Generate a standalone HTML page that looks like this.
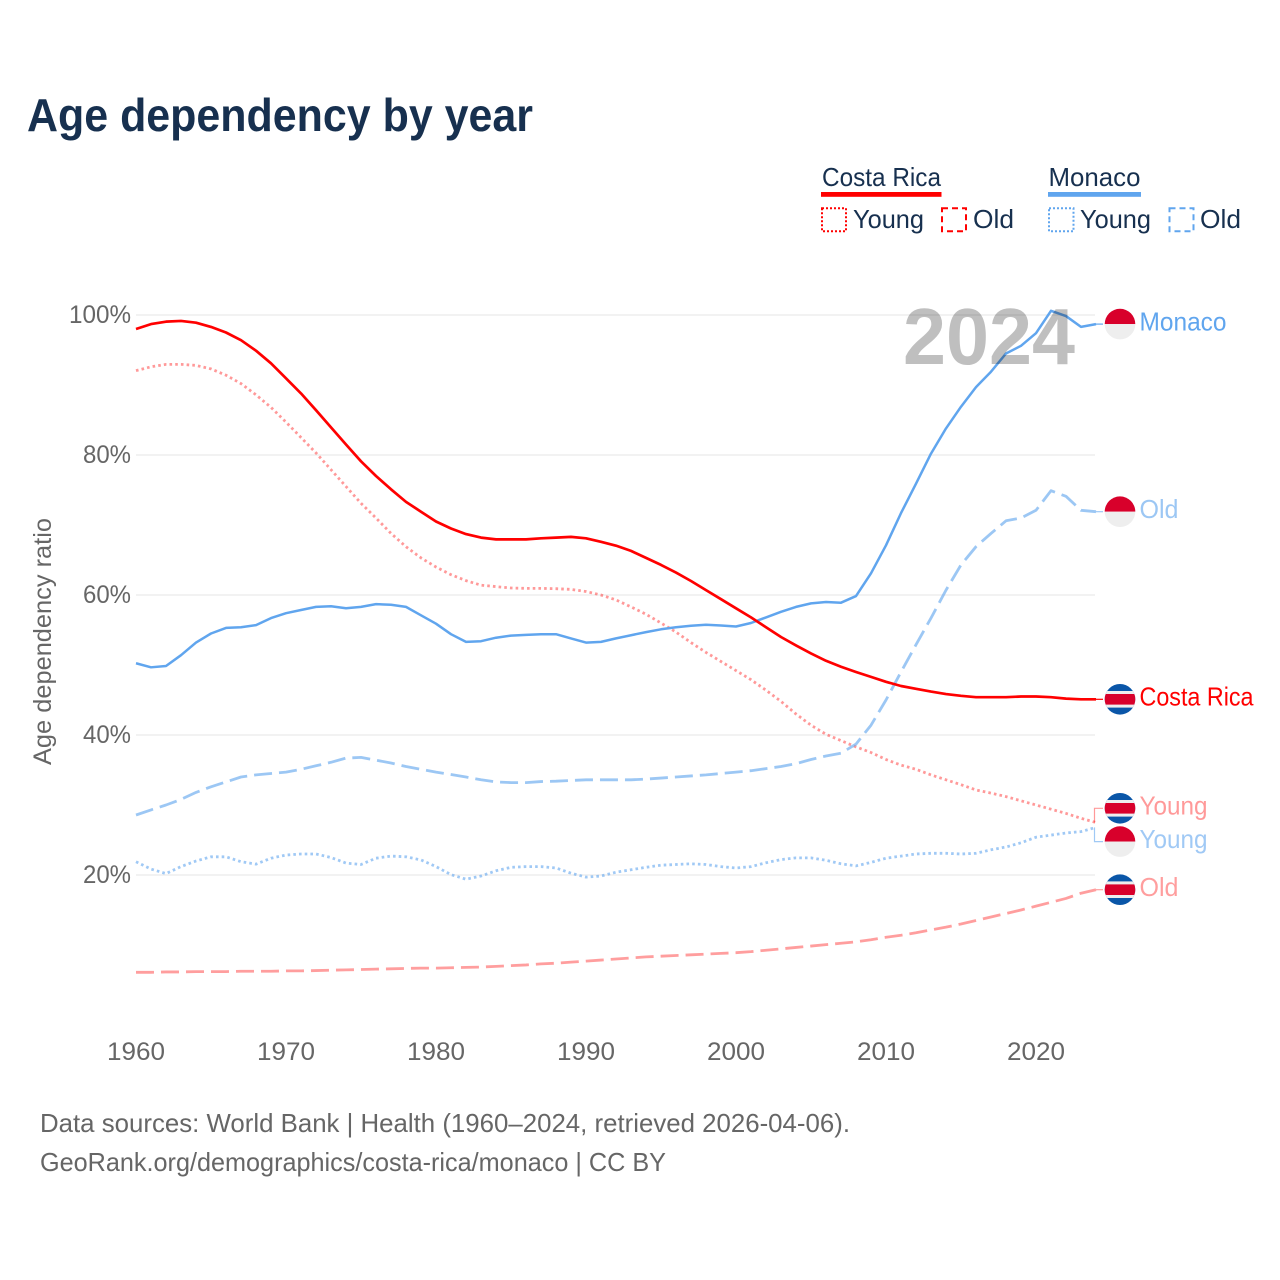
<!DOCTYPE html>
<html lang="en">
<head>
<meta charset="utf-8">
<title>Age dependency by year</title>
<style>
html,body{margin:0;padding:0;background:#fff;width:1280px;height:1280px;overflow:hidden}
svg{display:block}
text{font-family:"Liberation Sans",sans-serif}
</style>
</head>
<body>
<svg id="chart" xmlns="http://www.w3.org/2000/svg" width="1280" height="1280" viewBox="0 0 1280 1280">
  <defs><clipPath id="flag-clip"><circle cx="0" cy="0" r="15.3"></circle></clipPath></defs>
  <rect x="0" y="0" width="1280" height="1280" fill="#ffffff"></rect>

  <text x="27" y="131" font-size="46" font-weight="700" fill="#17304f" textLength="506" lengthAdjust="spacingAndGlyphs">Age dependency by year</text>

  <g>
    <g>
      <text x="822" y="186" font-size="26" fill="#17304f" textLength="119" lengthAdjust="spacingAndGlyphs">Costa Rica</text>
      <rect x="821" y="192" width="120.5" height="4.8" fill="#ff0000"></rect>
      <rect x="822" y="208.3" width="24" height="23" fill="none" stroke="#ff0000" stroke-width="2" stroke-dasharray="2 2"></rect>
      <text x="853" y="228" font-size="26" fill="#17304f" textLength="71" lengthAdjust="spacingAndGlyphs">Young</text>
      <rect x="942" y="208.3" width="24" height="23" fill="none" stroke="#ff0000" stroke-width="2" stroke-dasharray="6 4"></rect>
      <text x="973" y="228" font-size="26" fill="#17304f" textLength="41" lengthAdjust="spacingAndGlyphs">Old</text>
    </g>
    <g>
      <text x="1048.5" y="186" font-size="26" fill="#17304f" textLength="92" lengthAdjust="spacingAndGlyphs">Monaco</text>
      <rect x="1048" y="192" width="93" height="4.8" fill="#60a5ee"></rect>
      <rect x="1049" y="208.3" width="24.5" height="23" fill="none" stroke="#60a5ee" stroke-width="2" stroke-dasharray="2 2"></rect>
      <text x="1080" y="228" font-size="26" fill="#17304f" textLength="71" lengthAdjust="spacingAndGlyphs">Young</text>
      <rect x="1169.5" y="208.3" width="24" height="23" fill="none" stroke="#60a5ee" stroke-width="2" stroke-dasharray="6 4"></rect>
      <text x="1200" y="228" font-size="26" fill="#17304f" textLength="41" lengthAdjust="spacingAndGlyphs">Old</text>
    </g>
  </g>

  <g id="grid"></g>
  <g id="y-ticks"></g>
  <g id="x-ticks"></g>
  <text transform="translate(51,641.5) rotate(-90)" text-anchor="middle" font-size="25" fill="#666666" textLength="247" lengthAdjust="spacingAndGlyphs">Age dependency ratio</text>

  <g id="lines"></g>
  <g id="ends"></g>
  <text id="year-label" x="903" y="364" font-size="80" font-weight="700" fill="#000000" fill-opacity="0.25" textLength="172" lengthAdjust="spacingAndGlyphs"></text>

  <text x="40" y="1132" font-size="26" fill="#666666" textLength="810" lengthAdjust="spacingAndGlyphs">Data sources: World Bank | Health (1960–2024, retrieved 2026-04-06).</text>
  <text x="40" y="1171" font-size="26" fill="#666666" textLength="626" lengthAdjust="spacingAndGlyphs">GeoRank.org/demographics/costa-rica/monaco | CC BY</text>
</svg>

<script>
const years = [1960,1961,1962,1963,1964,1965,1966,1967,1968,1969,
  1970,1971,1972,1973,1974,1975,1976,1977,1978,1979,
  1980,1981,1982,1983,1984,1985,1986,1987,1988,1989,
  1990,1991,1992,1993,1994,1995,1996,1997,1998,1999,
  2000,2001,2002,2003,2004,2005,2006,2007,2008,2009,
  2010,2011,2012,2013,2014,2015,2016,2017,2018,2019,
  2020,2021,2022,2023,2024];
const xTickValues = [1960,1970,1980,1990,2000,2010,2020];
const yTickValues = [20,40,60,80,100];

const costaRicaTotal = [98.0,98.7,99.05,99.15,98.9,98.3,97.5,96.4,94.9,93.1,
  90.95,88.8,86.4,83.95,81.5,79.1,77.0,75.1,73.3,71.9,
  70.5,69.5,68.7,68.2,67.95,67.95,67.95,68.1,68.2,68.3,
  68.1,67.6,67.05,66.3,65.3,64.3,63.2,62.0,60.7,59.4,
  58.1,56.8,55.4,54.0,52.8,51.65,50.6,49.75,49.0,48.3,
  47.6,47.0,46.6,46.2,45.85,45.6,45.4,45.4,45.4,45.5,
  45.5,45.4,45.2,45.1,45.1];
const costaRicaYoung = [92.05,92.6,92.95,92.95,92.8,92.3,91.4,90.2,88.6,86.8,
  84.7,82.5,80.3,77.9,75.5,73.1,71.0,68.8,66.9,65.3,
  64.0,62.9,62.05,61.4,61.2,61.0,60.95,60.95,60.9,60.8,
  60.5,60.0,59.3,58.3,57.25,56.0,54.7,53.2,51.8,50.5,
  49.2,47.9,46.4,44.8,43.0,41.4,40.1,39.2,38.3,37.5,
  36.5,35.7,35.1,34.3,33.6,32.9,32.15,31.7,31.2,30.6,
  30.0,29.4,28.8,28.1,27.5];
const costaRicaOld = [6.1,6.1,6.15,6.15,6.2,6.2,6.2,6.25,6.25,6.25,
  6.3,6.3,6.35,6.4,6.45,6.5,6.55,6.6,6.65,6.7,
  6.7,6.75,6.8,6.85,6.95,7.05,7.15,7.3,7.4,7.55,
  7.7,7.85,8.0,8.15,8.3,8.4,8.5,8.6,8.7,8.8,
  8.9,9.05,9.25,9.45,9.65,9.85,10.05,10.25,10.45,10.75,
  11.1,11.4,11.75,12.15,12.55,13.0,13.5,14.0,14.5,15.0,
  15.55,16.1,16.65,17.4,17.9];
const monacoTotal = [50.25,49.67,49.86,51.4,53.2,54.5,55.3,55.4,55.7,56.7,
  57.4,57.86,58.3,58.4,58.1,58.3,58.7,58.6,58.3,57.1,
  55.9,54.4,53.3,53.4,53.9,54.2,54.3,54.4,54.4,53.8,
  53.2,53.3,53.8,54.25,54.7,55.1,55.4,55.6,55.75,55.65,
  55.5,56.0,56.8,57.6,58.3,58.8,59.0,58.9,59.85,63.1,
  67.1,71.7,75.9,80.2,83.8,86.9,89.7,91.9,94.5,95.6,
  97.4,100.6,99.85,98.3,98.7];
const monacoYoung = [21.9,20.85,20.2,21.2,22.0,22.6,22.6,21.9,21.55,22.4,
  22.85,23.0,23.0,22.5,21.7,21.5,22.4,22.7,22.6,22.15,
  21.2,20.05,19.4,19.85,20.6,21.1,21.2,21.2,21.0,20.25,
  19.7,19.85,20.4,20.75,21.1,21.4,21.5,21.6,21.5,21.2,
  21.0,21.2,21.75,22.2,22.45,22.45,22.1,21.6,21.3,21.8,
  22.4,22.7,23.0,23.1,23.1,23.0,23.1,23.6,24.0,24.6,
  25.4,25.7,26.0,26.2,26.8];
const monacoOld = [28.57,29.3,30.0,30.8,31.8,32.6,33.3,34.0,34.3,34.5,
  34.7,35.1,35.6,36.1,36.7,36.8,36.4,36.0,35.5,35.1,
  34.7,34.35,34.0,33.6,33.3,33.2,33.2,33.35,33.4,33.5,
  33.6,33.6,33.6,33.6,33.7,33.85,34.0,34.15,34.3,34.5,
  34.7,34.9,35.2,35.5,35.9,36.5,37.0,37.4,38.7,41.4,
  45.0,49.0,52.9,56.7,60.7,64.3,66.9,68.8,70.6,71.0,
  72.1,74.9,74.1,72.1,71.9];

const NS = 'http://www.w3.org/2000/svg';
const RED = '#ff0000';
const BLUE = '#60a5ee';
const firstYear = years[0];

function xScale(year) { return 136 + (year - firstYear) * 15; }
function yScale(value) { return 1015 - value * 7; }

function make(tag, parent, attrs) {
  const el = document.createElementNS(NS, tag);
  for (const key in attrs) el.setAttribute(key, attrs[key]);
  parent.appendChild(el);
  return el;
}

const gridGroup = document.getElementById('grid');
const yTickGroup = document.getElementById('y-ticks');
const xTickGroup = document.getElementById('x-ticks');
const lineGroup = document.getElementById('lines');
const endGroup = document.getElementById('ends');

yTickValues.forEach(function (value) {
  const line = make('line', gridGroup, { x1: 136, x2: 1095, y1: yScale(value), y2: yScale(value), stroke: '#eeeeee', 'stroke-width': 1.6 });
  
  
  const label = value + '%';
  const tick = make('text', yTickGroup, { x: 131, y: yScale(value) + 8, 'text-anchor': 'end', 'font-size': 25, fill: '#666666', textLength: value === 100 ? 62 : 48, lengthAdjust: 'spacingAndGlyphs' });
  tick.textContent = label;
  
  
});

xTickValues.forEach(function (year) {
  const tick = make('text', xTickGroup, { x: xScale(year), y: 1060, 'text-anchor': 'middle', 'font-size': 25, fill: '#666666', textLength: 58, lengthAdjust: 'spacingAndGlyphs' });
  tick.textContent = year;
  
  
});

const seriesList = [
  { id: 'costa-rica-old', values: costaRicaOld, color: RED, opacity: 0.38, dash: '18 7', width: 2.8, label: 'Old', country: 'cr' },
  { id: 'monaco-young', values: monacoYoung, color: BLUE, opacity: 0.6, dash: '2.6 3.1', width: 2.8, label: 'Young', country: 'mc' },
  { id: 'costa-rica-young', values: costaRicaYoung, color: RED, opacity: 0.4, dash: '2.6 3.1', width: 2.8, label: 'Young', country: 'cr' },
  { id: 'monaco-old', values: monacoOld, color: BLUE, opacity: 0.62, dash: '18 7', width: 2.8, label: 'Old', country: 'mc' },
  { id: 'monaco-total', values: monacoTotal, color: BLUE, opacity: 1, dash: null, width: 2.5, label: 'Monaco', country: 'mc' },
  { id: 'costa-rica-total', values: costaRicaTotal, color: RED, opacity: 1, dash: null, width: 2.7, label: 'Costa Rica', country: 'cr' }
];

seriesList.forEach(function (s) {
  const points = s.values.map(function (v, i) { return xScale(years[i]) + ',' + yScale(v); }).join(' ');
  const line = make('polyline', lineGroup, { points: points, fill: 'none', stroke: s.color, 'stroke-opacity': s.opacity, 'stroke-width': s.width, 'stroke-linejoin': 'round' });
  if (s.dash) line.setAttribute('stroke-dasharray', s.dash);
  
  
});

function drawFlag(country, parent) {
  const clip = make('g', parent, { 'clip-path': 'url(#flag-clip)' });
  if (country === 'mc') {
    make('rect', clip, { x: -16, y: -16, width: 32, height: 16, fill: '#d8002b' });
    make('rect', clip, { x: -16, y: 0, width: 32, height: 16, fill: '#eeeeee' });
  } else {
    make('rect', clip, { x: -16, y: -16, width: 32, height: 32, fill: '#0a56a8' });
    make('rect', clip, { x: -16, y: -8.3, width: 32, height: 16.6, fill: '#eeeeee' });
    make('rect', clip, { x: -16, y: -5.3, width: 32, height: 10.6, fill: '#d8002b' });
  }
}

const endItems = seriesList.map(function (s) {
  const endY = yScale(s.values[s.values.length - 1]);
  return { s: s, endY: endY, y: endY };
}).sort(function (a, b) { return a.endY - b.endY; });

const minGap = 33.3;
for (let i = 1; i < endItems.length; i++) {
  const upper = endItems[i - 1];
  const lower = endItems[i];
  if (lower.y - upper.y < minGap) {
    const mid = (lower.y + upper.y) / 2;
    upper.y = mid - minGap / 2;
    lower.y = mid + minGap / 2;
  }
}

endItems.forEach(function (item) {
  const s = item.s;
  const moved = Math.abs(item.y - item.endY) > 0.5;
  const pts = moved
    ? '1094.5,' + item.endY + ' 1094.5,' + item.y + ' 1103,' + item.y
    : '1096,' + item.y + ' 1103,' + item.y;
  const connector = make('polyline', endGroup, { points: pts, fill: 'none', stroke: s.color, 'stroke-opacity': s.opacity, 'stroke-width': 1.2 });
  
  

  const flag = make('g', endGroup, { transform: 'translate(1120,' + item.y + ')' });
  
  
  drawFlag(s.country, flag);

  const widths = { 'Monaco': 87, 'Costa Rica': 114, 'Young': 68, 'Old': 39 };
  const text = make('text', endGroup, { x: 1139.5, y: item.y + 6.4, 'font-size': 26, fill: s.color, 'fill-opacity': s.opacity, textLength: widths[s.label], lengthAdjust: 'spacingAndGlyphs' });
  text.textContent = s.label;
  
  
});

document.getElementById('year-label').textContent = years[years.length - 1];
</script>
</body>
</html>
